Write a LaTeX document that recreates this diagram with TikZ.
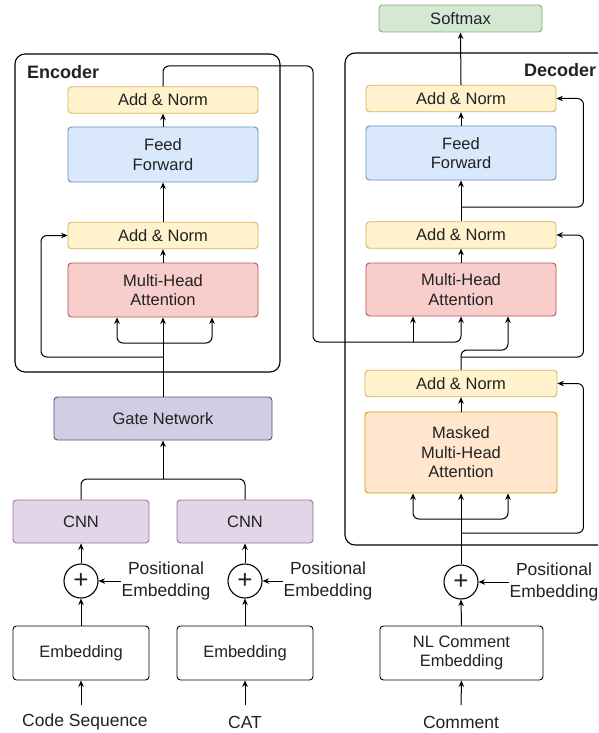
\documentclass[tikz,border=0pt]{standalone}
\usepackage{fontspec}
\setmainfont{Liberation Sans}
\usetikzlibrary{arrows.meta,calc}
\definecolor{addF}{HTML}{FFF2CC}\definecolor{addD}{HTML}{D6B656}
\definecolor{ffF}{HTML}{DAE8FC}\definecolor{ffD}{HTML}{6C8EBF}
\definecolor{mhF}{HTML}{F8CECC}\definecolor{mhD}{HTML}{B85450}
\definecolor{smF}{HTML}{D5E8D4}\definecolor{smD}{HTML}{82B366}
\definecolor{gtF}{HTML}{D0CEE2}\definecolor{gtD}{HTML}{56517E}
\definecolor{cnF}{HTML}{E1D5E7}\definecolor{cnD}{HTML}{9673A6}
\definecolor{mmF}{HTML}{FFE6CC}\definecolor{mmD}{HTML}{D79B00}
\definecolor{txt}{HTML}{222222}
\begin{document}
\begin{tikzpicture}[x=1pt,y=-1pt,
  every node/.style={text=txt},
  box/.style={draw, rounded corners=3.5pt, line width=0.9pt, inner sep=0pt, align=center,
    font=\fontsize{16.5}{19.5}\selectfont},
  addnorm/.style={box, fill=addF, draw=addD, minimum width=190pt, minimum height=26.5pt},
  ffbox/.style={box, fill=ffF, draw=ffD, minimum width=190pt, minimum height=55pt},
  mhbox/.style={box, fill=mhF, draw=mhD, minimum width=190pt, minimum height=54pt},
  smbox/.style={box, fill=smF, draw=smD, minimum width=163pt, minimum height=27pt},
  gtbox/.style={box, fill=gtF, draw=gtD, minimum width=218pt, minimum height=43pt},
  cnbox/.style={box, fill=cnF, draw=cnD, minimum width=136pt, minimum height=43pt},
  mmbox/.style={box, fill=mmF, draw=mmD, minimum width=192pt, minimum height=81pt},
  embbox/.style={box, fill=white, draw=black, minimum width=136pt, minimum height=54pt},
  plusnode/.style={draw=black, circle, line width=1.1pt, minimum size=34pt, inner sep=0pt,
    font=\fontsize{26}{26}\selectfont},
  lbl/.style={align=center, inner sep=1pt, font=\fontsize{17.5}{21.5}\selectfont},
  frame/.style={draw=black, line width=1.1pt, rounded corners=10pt},
  ttl/.style={font=\fontsize{18}{18}\selectfont\bfseries, inner sep=0pt, anchor=west},
  arr/.style={-{Stealth[length=6.5pt,width=5.5pt]}, line width=1pt, draw=black},
  ln/.style={line width=1pt, draw=black, rounded corners=6pt}]
\useasboundingbox (0,0) rectangle (598,733);
\clip (0,0) rectangle (598,733);
\fill[white] (0,0) rectangle (598,733);

% frames
\draw[frame] (15,54) rectangle (280,372);
\draw[frame] (345,53) rectangle (660,545);
\node[ttl] (enct) at (27,72) {Encoder};
\node[ttl] (dect) at (524,70) {Decoder};

% encoder nodes
\node[addnorm] (eadd1) at (163,100) {Add \& Norm};
\node[ffbox] (eff) at (163,154.5) {Feed\\Forward};
\node[addnorm] (eadd2) at (163,235.5) {Add \& Norm};
\node[mhbox] (emha) at (163,290) {Multi-Head\\Attention};
\node[gtbox] (gate) at (163,418.5) {Gate Network};
\node[cnbox] (cnn1) at (81,521.5) {CNN};
\node[cnbox] (cnn2) at (245,521.5) {CNN};
\node[plusnode] (plus1) at (81,581) {+};
\node[plusnode] (plus2) at (245,581) {+};
\node[embbox] (emb1) at (81,653) {Embedding};
\node[embbox] (emb2) at (245,653) {Embedding};
\node[lbl] (pos1) at (166,581) {Positional\\Embedding};
\node[lbl] (pos2) at (328,581) {Positional\\Embedding};
\node[lbl] (code) at (85,722) {Code Sequence};
\node[lbl] (cat) at (245,722) {CAT};

% decoder nodes
\node[smbox] (soft) at (460.5,18.5) {Softmax};
\node[addnorm] (dadd1) at (461,98.5) {Add \& Norm};
\node[ffbox, minimum height=54pt] (dff) at (461,153) {Feed\\Forward};
\node[addnorm] (dadd2) at (461,235) {Add \& Norm};
\node[mhbox, minimum height=53pt] (dmha) at (461,289.5) {Multi-Head\\Attention};
\node[addnorm, minimum width=192pt] (dadd3) at (461,383.5) {Add \& Norm};
\node[mmbox] (dmmha) at (461,452.5) {Masked\\Multi-Head\\Attention};
\node[plusnode] (plus3) at (461,582) {+};
\node[box, fill=white, draw=black, minimum width=163pt, minimum height=54pt] (nlemb) at (461.5,653) {NL Comment\\Embedding};
\node[lbl] (pos3) at (554,582) {Positional\\Embedding};
\node[lbl] (comm) at (461,722) {Comment};

% coordinates
\coordinate (in1) at (81,705);
\coordinate (in2) at (245,705);
\coordinate (in3) at (461,705);
\coordinate (gj) at (163,479);
\coordinate (efork) at (163,343);
\coordinate (eres) at (163,357);
\coordinate (eresx) at (41,357);
\coordinate (eoA) at (313,66);
\coordinate (eoB) at (313,342);
\coordinate (dK) at (413,342);
\coordinate (dQ) at (508,350);
\coordinate (dres1) at (461,207);
\coordinate (dres2) at (461,357);
\coordinate (dres3) at (461,533);
\coordinate (dfork) at (461,519);

% bottom inputs
\draw[arr] (in1) -- (emb1.south);
\draw[arr] (in2) -- (emb2.south);
\draw[arr] (in3) -- (nlemb.south);
\draw[arr] (emb1.north) -- (plus1.south);
\draw[arr] (emb2.north) -- (plus2.south);
\draw[arr] (nlemb.north) -- (plus3.south);
\draw[arr] (plus1.north) -- (cnn1.south);
\draw[arr] (plus2.north) -- (cnn2.south);
\draw[arr] (pos1.west) -- (plus1.east);
\draw[arr] (pos2.west) -- (plus2.east);
\draw[arr] (pos3.west) -- (plus3.east);
\draw[ln] (cnn1.north) |- (gj) -| (cnn2.north);
\draw[arr] (gj) -- (gate.south);

% encoder
\draw[arr] (gate.north) -- (emha.south);
\draw[arr, rounded corners=6pt] (efork) -| ($(emha.south)+(-46,0)$);
\draw[arr, rounded corners=6pt] (efork) -| ($(emha.south)+(49,0)$);
\draw[arr, rounded corners=6pt] (eres) -- (eresx) |- (eadd2.west);
\draw[arr] (emha.north) -- (eadd2.south);
\draw[arr] (eadd2.north) -- (eff.south);
\draw[arr] (eff.north) -- (eadd1.south);
\draw[arr, rounded corners=6pt] (eadd1.north) |- (eoA) -- (eoB) -| (dmha.south);
\draw[arr] (dK) -- (dK |- dmha.south);

% decoder
\draw[arr] (plus3.north) -- (dmmha.south);
\draw[arr, rounded corners=6pt] (dfork) -| ($(dmmha.south)+(-48,0)$);
\draw[arr, rounded corners=6pt] (dfork) -| ($(dmmha.south)+(47,0)$);
\draw[arr, rounded corners=6pt] (dres3) -| ($(dadd3.east)+(26,0)$) -- (dadd3.east);
\draw[arr] (dmmha.north) -- (dadd3.south);
\draw[arr, rounded corners=6pt] (dadd3.north) |- (dQ) -- ($(dmha.south)+(47,0)$);
\draw[arr, rounded corners=6pt] (dres2) -| ($(dadd2.east)+(27,0)$) -- (dadd2.east);
\draw[arr] (dmha.north) -- (dadd2.south);
\draw[arr] (dadd2.north) -- (dff.south);
\draw[arr, rounded corners=6pt] (dres1) -| ($(dadd1.east)+(27,0)$) -- (dadd1.east);
\draw[arr] (dff.north) -- (dadd1.south);
\draw[arr] (dadd1.north) -- (soft.south);
\end{tikzpicture}
\end{document}
